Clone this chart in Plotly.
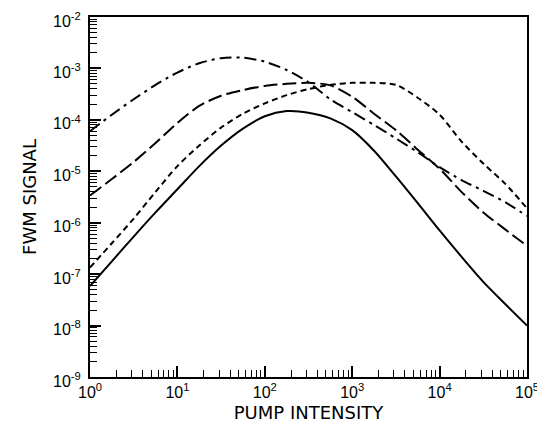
import plotly.graph_objects as go

# log10 of pump intensity (shared grid)
log_intensity = [0.0, 0.25, 0.5, 0.75, 1.0, 1.25, 1.5, 1.75, 2.0, 2.25, 2.5,
                 2.75, 3.0, 3.25, 3.5, 3.75, 4.0, 4.25, 4.5, 4.75, 5.0]

# log10 of FWM signal for each curve
solid_log = [-7.23, -6.75, -6.27, -5.8, -5.35, -4.9, -4.5, -4.17, -3.93, -3.83, -3.86,
             -3.97, -4.2, -4.6, -5.1, -5.62, -6.15, -6.66, -7.15, -7.58, -8.0]
short_dash_log = [-6.87, -6.4, -5.92, -5.4, -4.9, -4.5, -4.15, -3.88, -3.68, -3.52, -3.4,
                  -3.32, -3.28, -3.28, -3.32, -3.57, -3.9, -4.42, -4.85, -5.24, -5.72]
long_dash_log = [-5.47, -5.15, -4.82, -4.45, -4.06, -3.73, -3.53, -3.42, -3.34, -3.3, -3.28,
                 -3.33, -3.55, -3.88, -4.2, -4.58, -4.95, -5.4, -5.8, -6.13, -6.45]
dash_dot_log = [-4.22, -3.9, -3.6, -3.32, -3.08, -2.9, -2.8, -2.79, -2.87, -3.03, -3.27,
                -3.6, -3.85, -4.1, -4.36, -4.63, -4.92, -5.17, -5.38, -5.6, -5.87]

x_tick_exps = [0, 1, 2, 3, 4, 5]
y_tick_exps = [-9, -8, -7, -6, -5, -4, -3, -2]

x_vals = [10 ** e for e in log_intensity]

fig = go.Figure()
series = [
    (solid_log, "solid"),
    (short_dash_log, "6px,4px"),
    (long_dash_log, "14px,5px"),
    (dash_dot_log, "12px,5px,3px,5px"),
]
for ylog, dash in series:
    fig.add_trace(go.Scatter(
        x=x_vals, y=[10 ** v for v in ylog], mode="lines",
        line=dict(color="black", width=2, dash=dash, shape="spline", smoothing=0.8),
        showlegend=False, hoverinfo="skip"))

tick_family = "Liberation Sans, Arial, sans-serif"
title_family = "DejaVu Sans, sans-serif"

common = dict(
    automargin=False,
    ticks="inside", ticklen=11, tickwidth=1.5, tickcolor="black",
    minor=dict(ticks="inside", ticklen=7, tickcolor="black", tickwidth=1, dtick="D1", showgrid=False),
    showline=True, linecolor="black", linewidth=2, mirror=True,
    showgrid=False, zeroline=False,
    tickfont=dict(size=16, color="black", family=tick_family),
    ticklabeloverflow="allow",
)

fig.update_xaxes(
    type="log", range=[0, 5],
    tickvals=[10 ** e for e in x_tick_exps],
    ticktext=[f"10<sup>{e}</sup>" for e in x_tick_exps],
    title=dict(text="PUMP INTENSITY", font=dict(size=18, color="black", family=title_family), standoff=6),
    **common,
)
fig.update_yaxes(
    type="log", range=[-9, -2],
    tickvals=[10 ** e for e in y_tick_exps],
    ticktext=[f"10<sup>{e}</sup>" for e in y_tick_exps],
    ticklabelstandoff=4,
    ticklabelshift=4,
    title=dict(text="FWM SIGNAL", font=dict(size=18, color="black", family=title_family), standoff=12),
    **common,
)
# the page body adds an 8px offset, so the figure is sized to fill the rest of the window
fig.update_layout(
    width=537, height=423,
    margin=dict(l=82, r=18, t=9, b=54),
    paper_bgcolor="white", plot_bgcolor="white",
)
fig.write_html("out.html")
